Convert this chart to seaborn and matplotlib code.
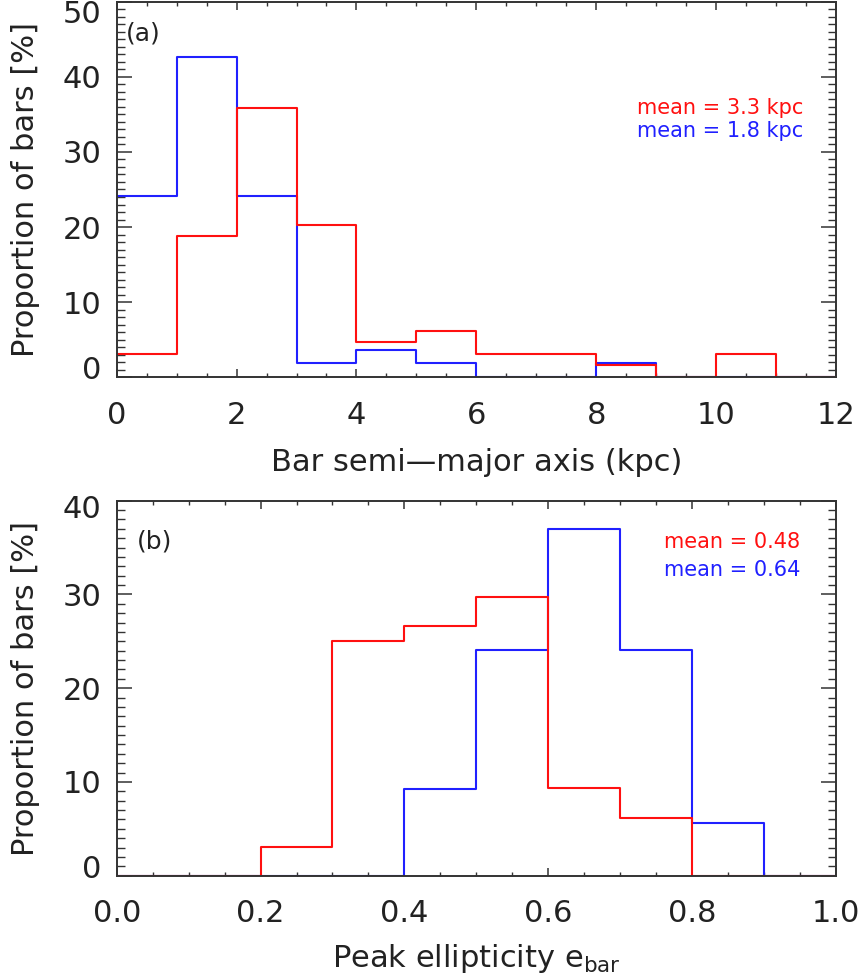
import numpy as np
import matplotlib
matplotlib.use('Agg')
import matplotlib.pyplot as plt
import matplotlib.transforms as mtransforms
from matplotlib.ticker import MultipleLocator, FormatStrFormatter
import seaborn as sns

# ------------------- Data -------------------
size_edges = [0, 1, 2, 3, 4, 5, 6, 7, 8, 9, 10, 11, 12]
size_red_pct = [3.1, 18.8, 35.9, 20.3, 4.7, 6.2, 3.1, 3.1, 1.6, 0.0, 3.1, 0.0]
size_blue_pct = [24.1, 42.6, 24.1, 1.9, 3.7, 1.9, 0.0, 0.0, 1.9, 0.0, 0.0, 0.0]
size_means = ['mean = 3.3 kpc', 'mean = 1.8 kpc']
size_xticks = [0, 2, 4, 6, 8, 10, 12]
size_yticks = [0, 10, 20, 30, 40, 50]

ell_edges = [0.0, 0.1, 0.2, 0.3, 0.4, 0.5, 0.6, 0.7, 0.8, 0.9, 1.0]
ell_red_pct = [0.0, 0.0, 3.1, 25.0, 26.6, 29.7, 9.4, 6.2, 0.0, 0.0]
ell_blue_pct = [0.0, 0.0, 0.0, 0.0, 9.3, 24.1, 37.0, 24.1, 5.6, 0.0]
ell_means = ['mean = 0.48', 'mean = 0.64']
ell_xticks = [0.0, 0.2, 0.4, 0.6, 0.8, 1.0]
ell_yticks = [0, 10, 20, 30, 40]

RED = '#ff1010'
BLUE = '#2020ff'
INK = '#222222'

# ------------------- Style -------------------
sns.set_style('ticks')
plt.rcParams['font.family'] = ['DejaVu Sans']
plt.rcParams['mathtext.default'] = 'regular'
plt.rcParams['axes.linewidth'] = 1.4
plt.rcParams['axes.edgecolor'] = '#333333'
plt.rcParams['text.color'] = INK
plt.rcParams['axes.labelcolor'] = INK
plt.rcParams['xtick.labelcolor'] = INK
plt.rcParams['ytick.labelcolor'] = INK

fig = plt.figure(figsize=(8.62, 9.8), dpi=100)
ax_a = fig.add_axes([0.1354, 0.615, 0.8344, 0.3833])
ax_b = fig.add_axes([0.1354, 0.1064, 0.8344, 0.3827])


def draw_panel(ax, edges, red, blue, xticks, xmin, yticks, fmt, top_shift):
    centers = [(edges[i] + edges[i + 1]) / 2 for i in range(len(edges) - 1)]
    sns.histplot(x=centers, weights=blue, bins=edges, element='step', fill=False,
                 color=BLUE, linewidth=1.5, ax=ax)
    sns.histplot(x=centers, weights=red, bins=edges, element='step', fill=False,
                 color=RED, linewidth=1.5, ax=ax)
    ax.set_xlim(xticks[0], xticks[-1])
    ax.set_ylim(yticks[0], yticks[-1])
    ax.set_xticks(xticks)
    ax.set_yticks(yticks)
    ax.xaxis.set_minor_locator(MultipleLocator(xmin))
    ax.yaxis.set_minor_locator(MultipleLocator(1))
    ax.xaxis.set_major_formatter(FormatStrFormatter(fmt))
    ax.tick_params(axis='both', which='both', direction='in', top=True, right=True,
                   color='#333333', labelsize=22)
    ax.tick_params(axis='x', which='major', length=5.5, width=1.1, pad=17)
    ax.tick_params(axis='x', which='minor', length=3, width=1.0)
    ax.tick_params(axis='y', which='major', length=11, width=1.1, pad=11)
    ax.tick_params(axis='y', which='minor', length=5.5, width=1.0)
    ax.set_ylabel('Proportion of bars [%]', fontsize=22, labelpad=16)
    # nudge the end y labels inward like the original
    ticks = ax.yaxis.get_major_ticks()
    lab0 = ticks[0].label1
    lab0.set_transform(lab0.get_transform() +
                       mtransforms.ScaledTranslation(0, 7 / 72, fig.dpi_scale_trans))
    lab1 = ticks[-1].label1
    lab1.set_transform(lab1.get_transform() +
                       mtransforms.ScaledTranslation(0, -top_shift / 72, fig.dpi_scale_trans))


draw_panel(ax_a, size_edges, size_red_pct, size_blue_pct, size_xticks, 0.5,
           size_yticks, '%d', 7)
ax_a.set_xlabel('Bar semi\u2014major axis (kpc)', fontsize=22, labelpad=13)
ax_a.text(0.013, 0.914, '(a)', transform=ax_a.transAxes, fontsize=18, va='center')
ax_a.text(0.955, 0.717, size_means[0], transform=ax_a.transAxes, fontsize=15,
          color=RED, ha='right', va='center')
ax_a.text(0.955, 0.656, size_means[1], transform=ax_a.transAxes, fontsize=15,
          color=BLUE, ha='right', va='center')

draw_panel(ax_b, ell_edges, ell_red_pct, ell_blue_pct, ell_xticks, 0.05,
           ell_yticks, '%.1f', 4.5)
ax_b.set_xlabel('Peak ellipticity e$_{bar}$', fontsize=22, labelpad=10)
ax_b.text(0.028, 0.89, '(b)', transform=ax_b.transAxes, fontsize=18, va='center')
ax_b.text(0.95, 0.891, ell_means[0], transform=ax_b.transAxes, fontsize=15,
          color=RED, ha='right', va='center')
ax_b.text(0.95, 0.815, ell_means[1], transform=ax_b.transAxes, fontsize=15,
          color=BLUE, ha='right', va='center')

fig.savefig('out.png', dpi=100)
